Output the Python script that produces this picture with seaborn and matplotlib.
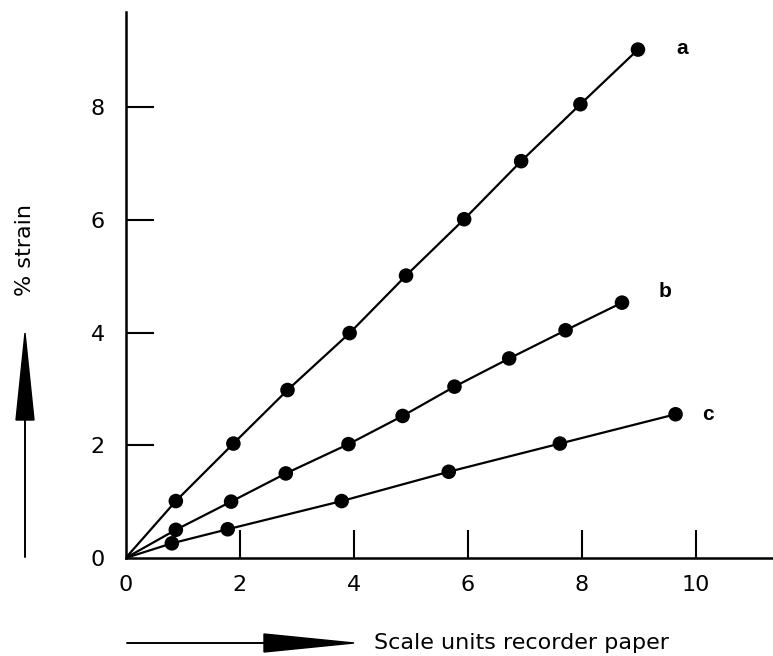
import matplotlib
matplotlib.use("Agg")
import matplotlib.pyplot as plt
import seaborn as sns
import pandas as pd
from matplotlib.patches import Polygon

# data
a_x = [0.88, 1.89, 2.84, 3.93, 4.92, 5.94, 6.94, 7.98, 8.99]
a_y = [1.01, 2.03, 2.98, 3.99, 5.01, 6.01, 7.04, 8.05, 9.02]
b_x = [0.88, 1.85, 2.81, 3.91, 4.86, 5.77, 6.73, 7.72, 8.71]
b_y = [0.50, 1.00, 1.50, 2.02, 2.52, 3.04, 3.54, 4.04, 4.53]
c_x = [0.81, 1.79, 3.79, 5.67, 7.62, 9.65]
c_y = [0.26, 0.51, 1.01, 1.53, 2.03, 2.55]
series_names = ["a", "b", "c"]
x_ticks = [0, 2, 4, 6, 8, 10]
y_ticks = [0, 2, 4, 6, 8]

sns.set_theme(style="white")
plt.rcParams["font.family"] = ["DejaVu Sans"]
plt.rcParams["text.color"] = "black"

rows = []
for name, xs, ys in zip(series_names, [a_x, b_x, c_x], [a_y, b_y, c_y]):
    for x, y in zip(xs, ys):
        rows.append({"series": name, "x": x, "y": y})
df = pd.DataFrame(rows)
line_rows = [{"series": n, "x": 0.0, "y": 0.0} for n in series_names] + rows
df_line = pd.DataFrame(line_rows).sort_values(["series", "x"])

fig = plt.figure(figsize=(7.73, 6.56), dpi=100)
ax = fig.add_axes([0.1626, 0.1494, 1 - 0.1626, 0.982 - 0.1494])

pal = {n: "black" for n in series_names}
sns.lineplot(data=df_line, x="x", y="y", hue="series", palette=pal, sort=False,
             estimator=None, lw=1.6, legend=False, ax=ax)
sns.scatterplot(data=df, x="x", y="y", hue="series", palette=pal, s=110,
                edgecolor="black", linewidth=0, legend=False, ax=ax, zorder=3)

ax.set_xlim(0, 11.36)
ax.set_ylim(0, 9.69)
ax.set_xticks(x_ticks)
ax.set_yticks(y_ticks)
ax.set_xticklabels([str(t) for t in x_ticks])
ax.set_yticklabels([str(t) for t in y_ticks])
ax.set_xlabel("")
ax.set_ylabel("")
for s in ["top", "right"]:
    ax.spines[s].set_visible(False)
for s in ["left", "bottom"]:
    ax.spines[s].set_color("black")
    ax.spines[s].set_linewidth(1.8)
ax.tick_params(axis="both", direction="in", length=20, width=1.5,
               color="black", labelsize=16, labelcolor="black",
               bottom=True, left=True)
ax.tick_params(axis="y", pad=15)
ax.tick_params(axis="x", pad=12)
# hide the inner tick at 0 (it overlaps spine)
ax.xaxis.get_major_ticks()[0].tick1line.set_visible(False)
ax.yaxis.get_major_ticks()[0].tick1line.set_visible(False)

# series labels
def px(xp, yp):
    return (xp / 773, 1 - yp / 656)

for lab, (xp, yp) in zip(series_names, [(682, 48), (665, 292), (708, 415)]):
    fig.text(*px(xp, yp), lab, fontsize=15, fontweight="bold", color="black",
             ha="center", va="center", family=["Liberation Sans"])

# y axis label with upward arrow
fig.text(*px(25, 250), "% strain", rotation=90, fontsize=16, color="black",
         ha="center", va="center")
fig.add_artist(plt.Line2D([25 / 773, 25 / 773], [1 - 557 / 656, 1 - 420 / 656],
                          color="black", lw=1.4, transform=fig.transFigure))
fig.add_artist(Polygon([px(16, 420), px(34, 420), px(25, 333)], closed=True,
                       color="black", transform=fig.transFigure))

# x axis label with right arrow
fig.add_artist(plt.Line2D([127 / 773, 264 / 773], [1 - 643 / 656, 1 - 643 / 656],
                          color="black", lw=1.4, transform=fig.transFigure))
fig.add_artist(Polygon([px(264, 634), px(264, 652), px(354, 643)], closed=True,
                       color="black", transform=fig.transFigure))
fig.text(*px(374, 643), "Scale units recorder paper", fontsize=16, color="black",
         ha="left", va="center")

fig.savefig("out.png", dpi=100, facecolor="white")
